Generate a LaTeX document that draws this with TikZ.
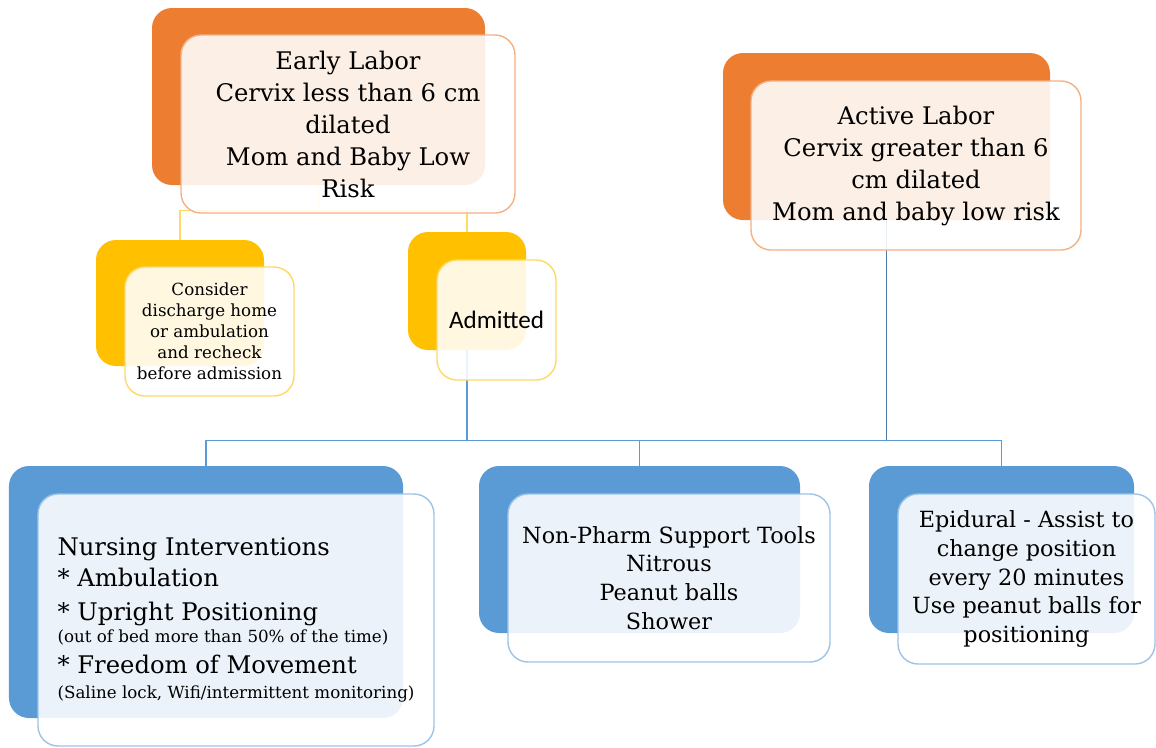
\documentclass[tikz,border=0pt]{standalone}
\usepackage{fontspec}
\setmainfont{DejaVu Serif}
\newfontfamily\calibrifont{Carlito}
\usetikzlibrary{backgrounds}
\definecolor{orangeA}{HTML}{ED7D31}
\definecolor{orangeL}{HTML}{F4B183}
\definecolor{goldA}{HTML}{FFC000}
\definecolor{goldL}{HTML}{FFD966}
\definecolor{blueA}{HTML}{5B9BD5}
\definecolor{blueL}{HTML}{9DC3E6}
\begin{document}
\begin{tikzpicture}[
    backbox/.style={rounded corners=0.4cm, inner sep=0pt},
    frontbox/.style={draw, line width=0.8pt, rounded corners=0.4cm, fill=white, fill opacity=0.88, text opacity=1, align=center, inner sep=0pt},
    bigtext/.style={font=\fontsize{13.8}{18.2}\selectfont},
    midtext/.style={font=\fontsize{12.7}{16.4}\selectfont},
    smalltext/.style={font=\fontsize{9.5}{12}\selectfont},
    link/.style={line width=0.6pt}]
    \useasboundingbox (0,0) rectangle (23.12,-14.94);

    % Early labor
    \node[backbox, fill=orangeA, minimum width=6.66cm, minimum height=3.54cm] (eback) at (6.37,-1.93) {};
    \node[frontbox, draw=orangeL, bigtext, minimum width=6.68cm, minimum height=3.56cm] (early) at (6.96,-2.48)
        {Early Labor\\Cervix less than 6 cm\\dilated\\Mom and Baby Low\\Risk};

    % Active labor
    \node[backbox, fill=orangeA, minimum width=6.54cm, minimum height=3.34cm] (actback) at (17.73,-2.73) {};
    \node[frontbox, draw=orangeL, bigtext, minimum width=6.60cm, minimum height=3.38cm] (active) at (18.32,-3.31)
        {Active Labor\\Cervix greater than 6\\cm dilated\\Mom and baby low risk};

    % Second level
    \node[backbox, fill=goldA, minimum width=3.36cm, minimum height=2.52cm] (cback) at (3.60,-6.06) {};
    \node[frontbox, draw=goldL, smalltext, minimum width=3.38cm, minimum height=2.58cm] (consider) at (4.19,-6.63)
        {Consider\\discharge home\\or ambulation\\and recheck\\before admission};

    \node[backbox, fill=goldA, minimum width=2.36cm, minimum height=2.36cm] (aback) at (9.34,-5.82) {};
    \node[frontbox, draw=goldL, font=\calibrifont\fontsize{14.3}{16}\selectfont, minimum width=2.38cm, minimum height=2.40cm] (admitted) at (9.93,-6.40)
        {Admitted};

    % Bottom row
    \node[backbox, fill=blueA, minimum width=7.88cm, minimum height=5.04cm] (nback) at (4.12,-11.84) {};
    \node[frontbox, draw=blueL, align=left, font=\fontsize{13.8}{17.6}\selectfont, minimum width=7.92cm, minimum height=5.04cm] (nursing) at (4.72,-12.40)
        {Nursing Interventions\\
         * Ambulation\\[1.7pt]
         * Upright Positioning\\[-5pt]
         {\fontsize{9.5}{11}\selectfont (out of bed more than 50\% of the time)}\\
         * Freedom of Movement\\[-3pt]
         {\fontsize{9.5}{11}\selectfont (Saline lock, Wifi/intermittent monitoring)}};

    \node[backbox, fill=blueA, minimum width=6.42cm, minimum height=3.34cm] (pback) at (12.79,-10.99) {};
    \node[frontbox, draw=blueL, midtext, minimum width=6.44cm, minimum height=3.36cm] (nonpharm) at (13.38,-11.56)
        {Non-Pharm Support Tools\\Nitrous\\Peanut balls\\Shower};

    \node[backbox, fill=blueA, minimum width=5.30cm, minimum height=3.34cm] (epback) at (20.03,-10.99) {};
    \node[frontbox, draw=blueL, midtext, minimum width=5.14cm, minimum height=3.40cm] (epidural) at (20.53,-11.58)
        {Epidural - Assist to\\change position\\every 20 minutes\\Use peanut balls for\\positioning};

    % Connectors
    \begin{pgfonlayer}{background}
        \draw[link, goldL] (eback.south) -- ++(0,-0.5) -| (cback.north);
        \draw[link, goldL] (eback.south) -- ++(0,-0.5) -| (aback.north);
        \draw[link, blueA] (aback.south) -- ++(0,-1.8) coordinate (split) -| (nback.north);
        \draw[link, blueA] (split) -| (pback.north);
        \draw[link, blueA] (split) -| (epback.north);
        \draw[link, blueA!80!black] (actback.south) -- (actback.south |- split);
    \end{pgfonlayer}
\end{tikzpicture}
\end{document}
